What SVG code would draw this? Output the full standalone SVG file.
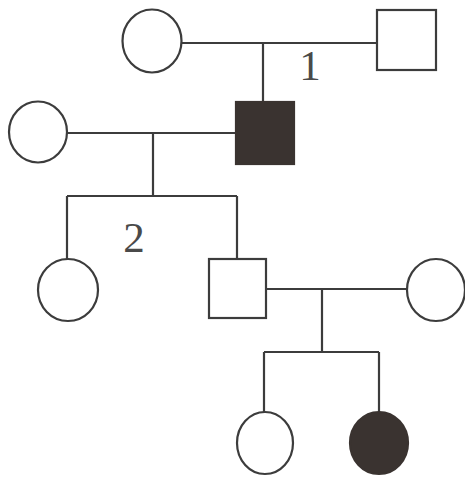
<svg xmlns="http://www.w3.org/2000/svg" width="465" height="480" viewBox="0 0 465 480">
<style>
.n{fill:#fff;stroke:#3c3c3c;stroke-width:2.2}
.a{fill:#3a3330;stroke:#3a3330;stroke-width:2.2}
.c{fill:none;stroke:#3c3c3c;stroke-width:2.2}
.t{font-family:"Liberation Serif",serif;font-size:43px;fill:#4a4a4a;text-anchor:middle}
</style>
<rect width="465" height="480" fill="#fff"/>
<g id="connectors" class="c">
<path d="M182 43H377M263 43V102"/>
<path d="M67 133H236M153 133V196M67 196H237M67 196V259M237 196V259"/>
<path d="M266 289H406M322 289V352M264 352H379M264 352V412M379 352V412"/>
</g>
<g id="I1"><ellipse class="n" cx="152" cy="41" rx="29.5" ry="31.5"/></g>
<g id="I2"><rect class="n" x="377" y="10" width="59" height="60"/></g>
<g id="II1"><ellipse class="n" cx="38" cy="132" rx="29" ry="30.5"/></g>
<g id="II2"><rect class="a" x="236" y="102" width="58" height="62"/></g>
<g id="III1"><ellipse class="n" cx="68" cy="290" rx="30" ry="31"/></g>
<g id="III2"><rect class="n" x="209" y="259" width="57" height="59"/></g>
<g id="III3"><ellipse class="n" cx="436" cy="290" rx="29" ry="31"/></g>
<g id="IV1"><ellipse class="n" cx="265" cy="443" rx="28" ry="31"/></g>
<g id="IV2"><ellipse class="a" cx="379" cy="443" rx="29" ry="31"/></g>
<text class="t" x="310" y="80">1</text>
<text class="t" x="134" y="252">2</text>
</svg>
